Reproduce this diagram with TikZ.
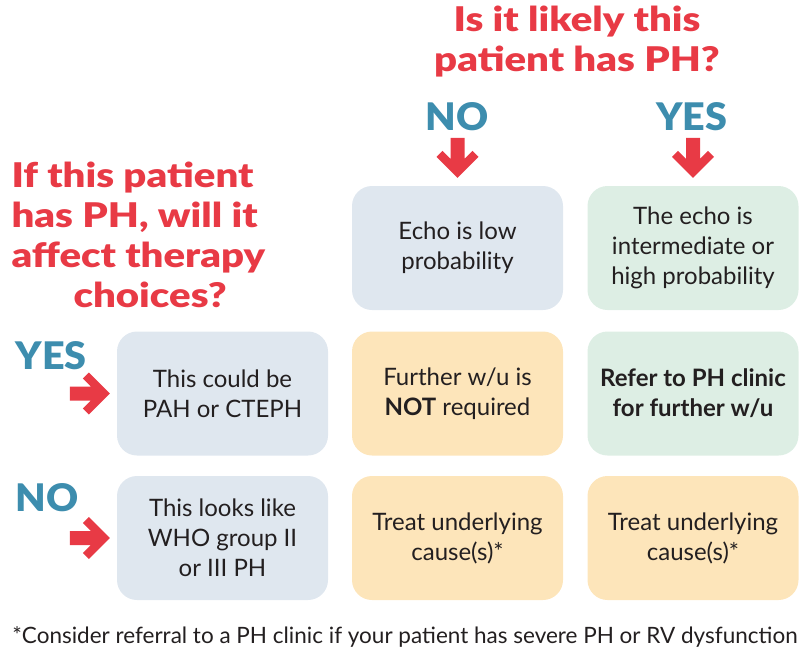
\documentclass[tikz,border=0pt]{standalone}
\usepackage{fontspec}
\setmainfont{Lato}
\newfontfamily\heavyfont{Lato Black}[FakeStretch=1.18]
\newfontfamily\answerfont{Lato Black}[FakeStretch=1.04]
\usetikzlibrary{positioning}
\definecolor{PHred}{RGB}{232,58,69}
\definecolor{PHteal}{RGB}{61,141,174}
\definecolor{PHtext}{RGB}{35,31,32}
\definecolor{BoxBlue}{RGB}{223,231,239}
\definecolor{BoxGreen}{RGB}{221,238,228}
\definecolor{BoxPeach}{RGB}{253,229,186}
\tikzset{
  cell/.style={rounded corners=20pt,minimum width=211pt,minimum height=124pt,
    align=center,text=PHtext,font=\fontsize{24}{30}\selectfont,inner sep=0pt},
  question/.style={text=PHred,font=\fontsize{34}{40}\heavyfont},
  answer/.style={text=PHteal,font=\fontsize{38}{40}\answerfont},
  downarrow/.pic={\fill[PHred] (-7,-40) -- (7,-40) -- (7,-19) -- (15,-27) -- (21,-21)
    -- (0,0) -- (-21,-21) -- (-15,-27) -- (-7,-19) -- cycle;}
}

\begin{document}
\begin{tikzpicture}[x=1pt,y=-1pt]
	\useasboundingbox (0,0) rectangle (809,653);
	% questions
	\node[question,align=center] (qlikely) at (577,42) {Is it likely this\\patient has PH?};
	\node[question,align=left,anchor=north west] (qtherapy) at (8,158)
		{If this patient\\has PH, will it\\affect therapy\\\hspace*{62pt}choices?};
	% answers
	\node[answer] (topno) at (457,117) {NO};
	\node[answer] (topyes) at (692,117) {YES};
	\node[answer,anchor=west] (leftyes) at (12,356) {YES};
	\node[answer,anchor=west] (leftno) at (12,498) {NO};
	% cells
	\node[cell,fill=BoxBlue] (echolow) at (457.5,248) {Echo is low\\probability};
	\node[cell,fill=BoxGreen] (echohigh) at (693,248) {The echo is\\intermediate or\\high probability};
	\node[cell,fill=BoxBlue] (pahcteph) at (222.5,393.5) {This could be\\PAH or CTEPH};
	\node[cell,fill=BoxPeach] (notreq) at (457.5,393.5) {Further w/u is\\\textbf{NOT} required};
	\node[cell,fill=BoxGreen] (refer) at (693,393.5) {\textbf{Refer to PH clinic}\\\textbf{for further w/u}};
	\node[cell,fill=BoxBlue] (whogroup) at (222.5,538) {This looks like\\WHO group II\\or III PH};
	\node[cell,fill=BoxPeach] (treatmid) at (457.5,538) {Treat underlying\\cause(s)*};
	\node[cell,fill=BoxPeach] (treatright) at (693,538) {Treat underlying\\cause(s)*};
	% arrows
	\pic at ([yshift=8pt]echolow.north) {downarrow};
	\pic at ([yshift=8pt]echohigh.north) {downarrow};
	\pic[rotate=90] at ([xshift=-7pt]pahcteph.west) {downarrow};
	\pic[rotate=90] at ([xshift=-7pt]whogroup.west) {downarrow};
	% footnote
	\node[text=PHtext,font=\fontsize{22.5}{26}\selectfont] (footnote) at (405,637)
		{*Consider referral to a PH clinic if your patient has severe PH or RV dysfunction};
\end{tikzpicture}
\end{document}
